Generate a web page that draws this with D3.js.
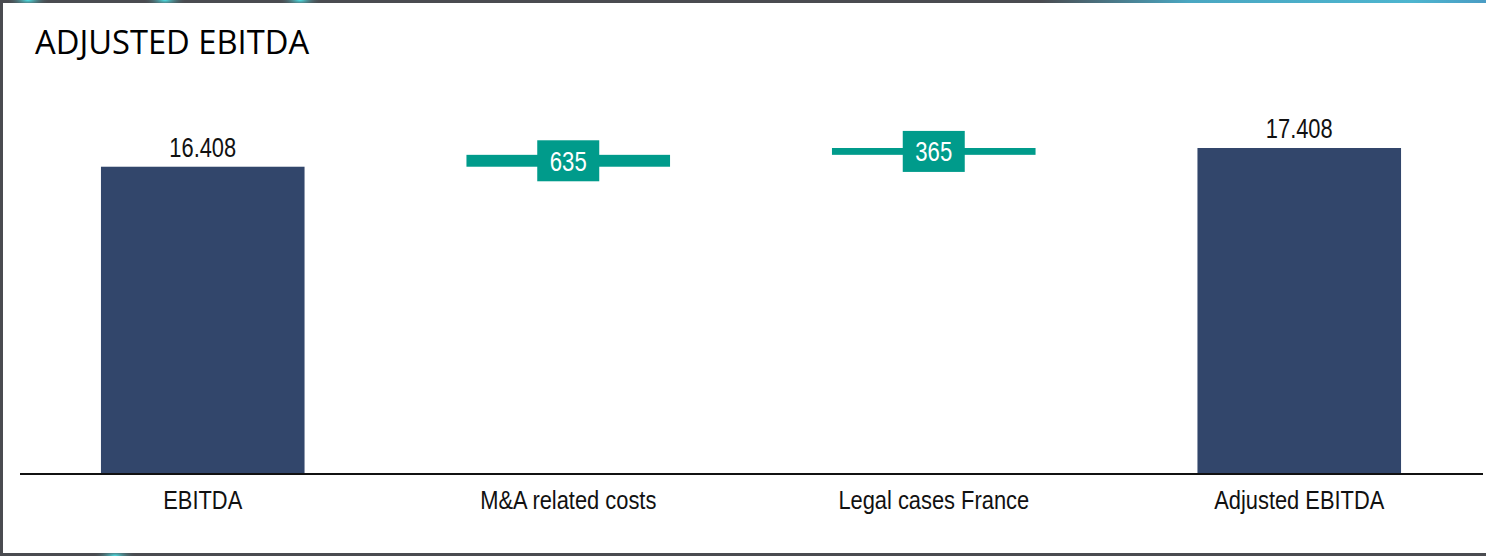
<!DOCTYPE html>
<html>
<head>
<meta charset="utf-8">
<script src="https://cdn.jsdelivr.net/npm/d3@7"></script>
<style>
  html, body { margin: 0; padding: 0; background: #4a4b50; }
  svg { display: block; }
</style>
</head>
<body>
<div id="chart"></div>
<script>
// data
const categories = ["EBITDA", "M&A related costs", "Legal cases France", "Adjusted EBITDA"];
const kinds = ["total", "step", "step", "total"];
const values = [16408, 635, 365, 17408];
const valueLabels = ["16.408", "635", "365", "17.408"];

const width = 1486, height = 556;
const margin = { top: 3, right: 3, bottom: 3, left: 3 };
const narrowFont = "'Liberation Sans', Arial, sans-serif";

const svg = d3.select("#chart")
    .append("svg")
    .attr("width", width)
    .attr("height", height);

// dark frame with a few cyan glows
const defs = svg.append("defs");
const glow = defs.append("radialGradient").attr("id", "glow");
glow.append("stop").attr("offset", "0%").attr("stop-color", "#4fe6ea");
glow.append("stop").attr("offset", "100%").attr("stop-color", "#4a4b50").attr("stop-opacity", 0);
const topBand = defs.append("linearGradient").attr("id", "topBand");
topBand.append("stop").attr("offset", "0%").attr("stop-color", "#4a4b50");
topBand.append("stop").attr("offset", "70%").attr("stop-color", "#4a4b50");
topBand.append("stop").attr("offset", "80%").attr("stop-color", "#4aa7c2");
topBand.append("stop").attr("offset", "95%").attr("stop-color", "#4db5cf");
topBand.append("stop").attr("offset", "100%").attr("stop-color", "#4a9cc4");

svg.append("rect").attr("width", width).attr("height", height).attr("fill", "url(#topBand)");
svg.append("rect").attr("y", 6).attr("width", width).attr("height", height - 6).attr("fill", "#4a4b50");
[[28, 0], [165, 0], [300, 0], [115, 556]].forEach(([cx, cy]) => {
    svg.append("ellipse").attr("cx", cx).attr("cy", cy).attr("rx", 22).attr("ry", 8).attr("fill", "url(#glow)");
});

svg.append("rect")
    .attr("x", margin.left).attr("y", margin.top)
    .attr("width", width - margin.left)
    .attr("height", height - margin.top - margin.bottom)
    .attr("fill", "#ffffff");

svg.append("text")
    .attr("x", 35).attr("y", 54)
    .attr("font-family", "'Open Sans', sans-serif")
    .attr("font-size", 32.7)
    .attr("fill", "#000")
    .text("ADJUSTED EBITDA");

// plot area
const baseY = 474;
const xScale = d3.scaleBand().domain(categories).range([20, 1482]).paddingInner(0.443).paddingOuter(0.2215);
const yScale = d3.scaleLinear().domain([0, 17408]).range([baseY, baseY - 326]);

// start/end of each bar in value terms
let running = 0;
const bars = categories.map((c, i) => {
    let lo, hi;
    if (kinds[i] === "total") { lo = 0; hi = values[i]; running = values[i]; }
    else { lo = running; hi = running + values[i]; running = hi; }
    return { cat: c, kind: kinds[i], lo, hi, label: valueLabels[i] };
});

const g = svg.append("g");

g.selectAll("rect.bar")
    .data(bars)
    .enter()
    .append("rect")
    .attr("class", "bar")
    .attr("x", d => xScale(d.cat))
    .attr("width", xScale.bandwidth())
    .attr("y", d => yScale(d.hi))
    .attr("height", d => yScale(d.lo) - yScale(d.hi))
    .attr("fill", d => d.kind === "total" ? "#32466b" : "#009b8b");

// labels above totals (condensed look)
g.selectAll("g.total")
    .data(bars.filter(d => d.kind === "total"))
    .enter()
    .append("g")
    .attr("class", "total")
    .attr("transform", d => `translate(${xScale(d.cat) + xScale.bandwidth() / 2},${yScale(d.hi) - 10}) scale(0.81,1)`)
    .append("text")
    .attr("text-anchor", "middle")
    .attr("font-family", narrowFont)
    .attr("font-size", 27)
    .attr("fill", "#111")
    .text(d => d.label);

// boxed labels on steps
const steps = g.selectAll("g.step")
    .data(bars.filter(d => d.kind === "step"))
    .enter()
    .append("g")
    .attr("class", "step")
    .attr("transform", d => `translate(${xScale(d.cat) + xScale.bandwidth() / 2},${(yScale(d.lo) + yScale(d.hi)) / 2})`);

steps.append("rect")
    .attr("x", -31).attr("y", -20.5)
    .attr("width", 62).attr("height", 41)
    .attr("fill", "#009b8b");

steps.append("text")
    .attr("y", 10)
    .attr("transform", "scale(0.82,1)")
    .attr("text-anchor", "middle")
    .attr("font-family", narrowFont)
    .attr("font-size", 27)
    .attr("fill", "#fff")
    .text(d => d.label);

// baseline + category axis
const xAxis = svg.append("g")
    .attr("transform", `translate(0,${baseY})`)
    .call(d3.axisBottom(xScale).tickSize(0).tickPadding(17));
xAxis.select(".domain")
    .attr("d", "M20,0H1483")
    .attr("stroke", "#111")
    .attr("stroke-width", 2);
xAxis.selectAll(".tick text")
    .attr("transform", "scale(0.875,1)")
    .attr("font-family", narrowFont)
    .attr("font-size", 25)
    .attr("fill", "#111");
</script>
</body>
</html>
